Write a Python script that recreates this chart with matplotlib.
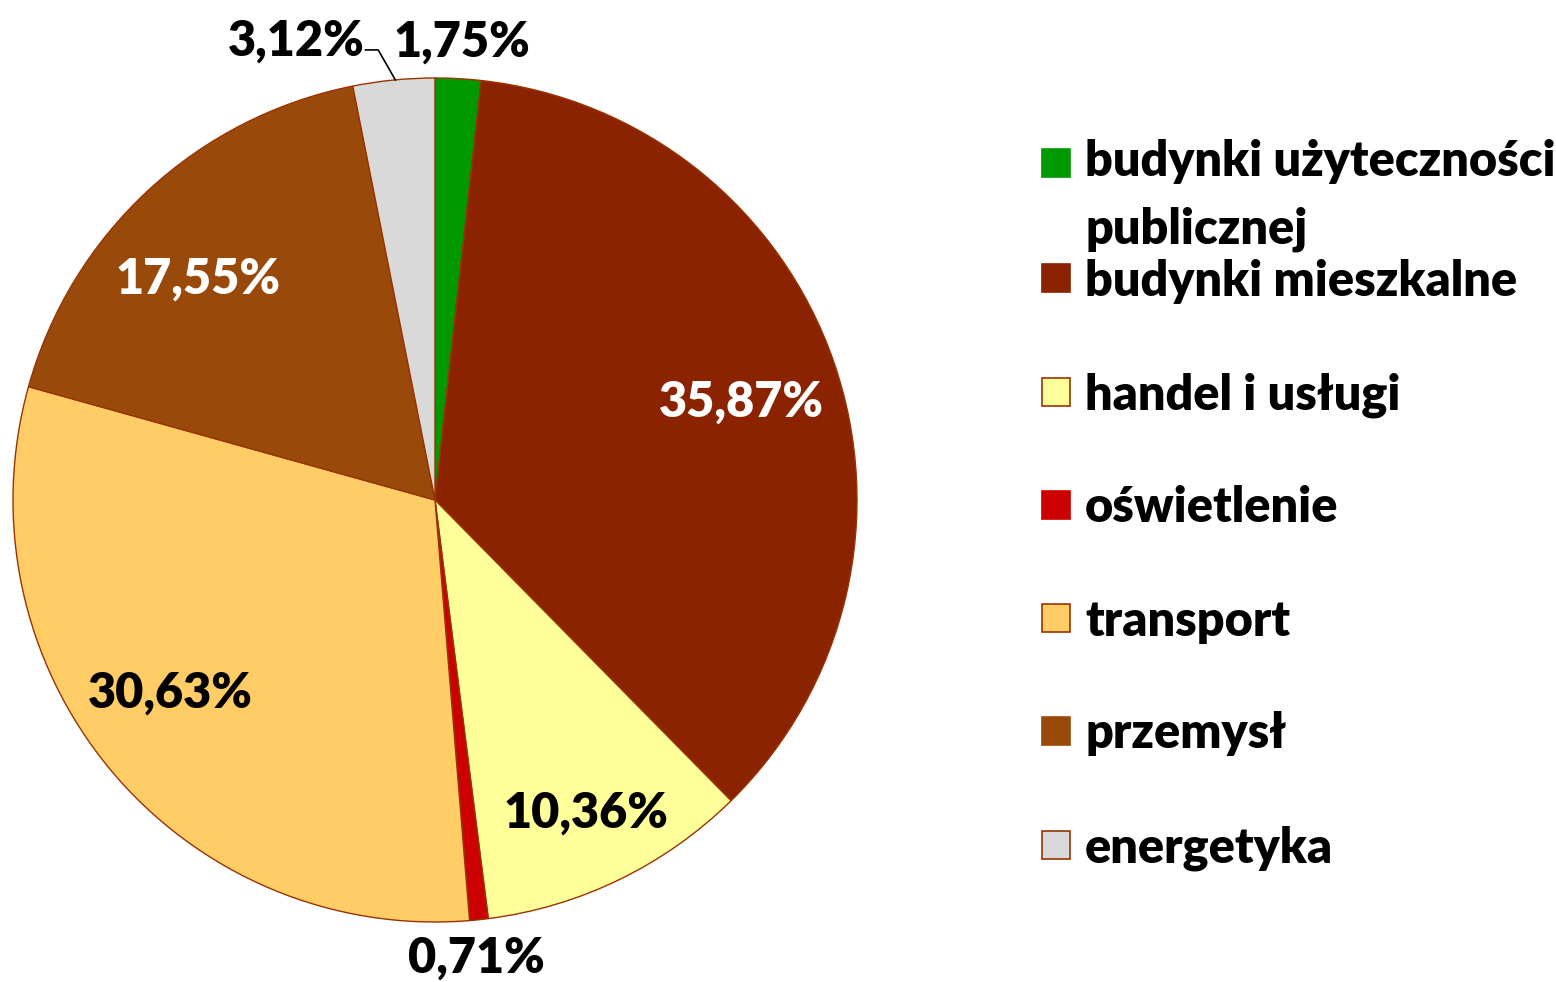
import numpy as np
import matplotlib
matplotlib.use("Agg")
import matplotlib.pyplot as plt
from matplotlib.patches import Rectangle

plt.rcParams['font.family'] = ['Lato', 'DejaVu Sans']
plt.rcParams['font.weight'] = 'bold'

categories = ["budynki użyteczności\npublicznej", "budynki mieszkalne", "handel i usługi",
              "oświetlenie", "transport", "przemysł", "energetyka"]
values = [1.75, 35.87, 10.36, 0.71, 30.63, 17.55, 3.12]
labels = ["1,75%", "35,87%", "10,36%", "0,71%", "30,63%", "17,55%", "3,12%"]
colors = ["#009900", "#8B2300", "#FFFF99", "#CC0000", "#FFCC66", "#994A0A", "#D9D9D9"]
label_colors = ["black", "white", "black", "black", "black", "white", "black"]
label_r = [1.097, 0.766, 0.813, 1.078, 0.77, 0.775, 1.146]
label_dang = [0.15, 0.7, -0.2, 0.7, 4.2, -3.6, -11.1]   # clockwise angle offset from wedge middle, deg
edge = "#993300"

W, H = 1556, 982
fig = plt.figure(figsize=(W / 100, H / 100), dpi=100)
fig.patch.set_facecolor("white")

cx, cy, R = 435, 500, 422
ax = fig.add_axes([(cx - R) / W, (H - cy - R) / H, 2 * R / W, 2 * R / H])

wedges, _ = ax.pie(values, colors=colors, startangle=90, counterclock=False, radius=1,
                   wedgeprops=dict(edgecolor=edge, linewidth=1.0))
ax.set_xlim(-1, 1)
ax.set_ylim(-1, 1)
ax.set_aspect("equal")
ax.axis("off")

fs = 35
dy = -0.011
pos = []
for i, w in enumerate(wedges):
    mid = np.deg2rad((w.theta1 + w.theta2) / 2 - label_dang[i])
    x, y = label_r[i] * np.cos(mid), label_r[i] * np.sin(mid) + dy
    pos.append((x, y))
    ax.text(x, y, labels[i], ha="center", va="center", fontsize=fs,
            fontweight="heavy", color=label_colors[i], clip_on=False)

# leader line for energetyka
w = wedges[6]
a = np.deg2rad(w.theta1 + 0.48 * (w.theta2 - w.theta1))
p0 = (np.cos(a), np.sin(a))
tx, ty = pos[6]
p1 = (tx + 0.195, p0[1] + 0.071)
p2 = (tx + 0.165, p0[1] + 0.071)
ax.plot([p0[0], p1[0], p2[0]], [p0[1], p1[1], p2[1]], color="black", lw=1.2, clip_on=False)

# legend
ys = [163, 278, 392, 505, 618, 731, 845]
for i, cat in enumerate(categories):
    yc = ys[i]
    fig.patches.append(Rectangle(((1042) / W, (H - yc - 14) / H), 28 / W, 28 / H,
                                 transform=fig.transFigure, facecolor=colors[i],
                                 edgecolor=edge if colors[i] in ("#FFFF99", "#FFCC66", "#D9D9D9") else colors[i],
                                 linewidth=1.2))
    fig.text(1085 / W, (H - yc - 3) / H, cat, ha="left", va="top" if "\n" in cat else "center",
             fontsize=fs, fontweight="heavy", color="black", linespacing=1.62)

# adjust the wrapped label so first line centers on marker
fig.texts[0].set_y((H - 163 + 24) / H)

fig.savefig("out.png", dpi=100, facecolor="white")
